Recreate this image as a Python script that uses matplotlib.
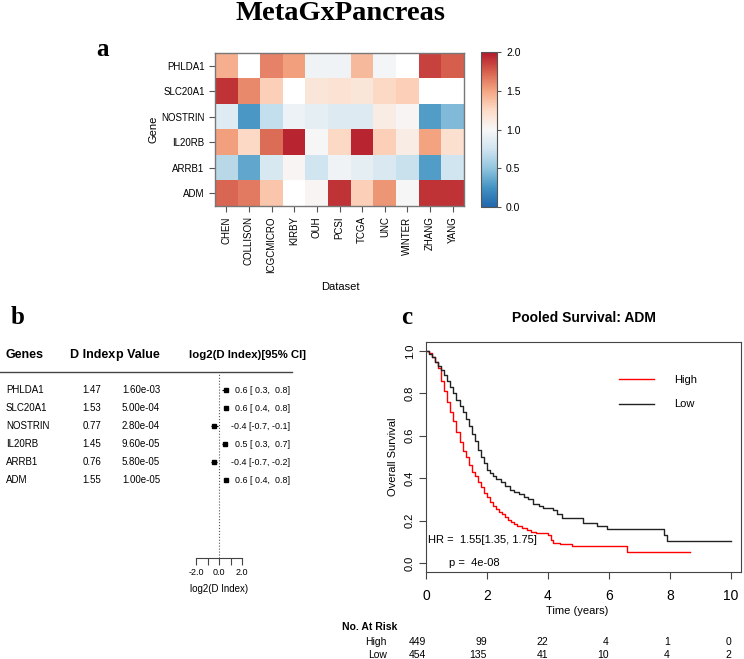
import numpy as np
import matplotlib
matplotlib.use("Agg")
import matplotlib.pyplot as plt
import matplotlib.transforms as mtrans
from matplotlib.colors import LinearSegmentedColormap
from matplotlib.lines import Line2D

plt.rcParams['font.family'] = ['Liberation Sans', 'DejaVu Sans']

# ---- data ----
genes = ["PHLDA1", "SLC20A1", "NOSTRIN", "IL20RB", "ARRB1", "ADM"]
datasets = ["CHEN", "COLLISON", "ICGCMICRO", "KIRBY", "OUH", "PCSI",
            "TCGA", "UNC", "WINTER", "ZHANG", "YANG"]
nan = np.nan
heat = np.array([
    [1.45, nan, 1.62, 1.52, 0.95, 0.95, 1.40, 0.98, nan, 1.85, 1.75],
    [1.90, 1.60, 1.30, nan, 1.15, 1.18, 1.15, 1.25, 1.30, nan, nan],
    [0.85, 0.28, 0.70, 0.93, 0.88, 0.83, 0.83, 1.10, 1.02, 0.30, 0.45],
    [1.52, 1.25, 1.70, 1.95, 1.00, 1.25, 1.95, 1.30, 1.10, 1.50, 1.20],
    [0.65, 0.35, 0.80, 1.02, 0.75, 0.96, 0.88, 0.82, 0.72, 0.30, 0.75],
    [1.72, 1.65, 1.35, nan, 1.02, 1.90, 1.30, 1.55, 1.00, 1.90, 1.90],
])

d_index = [1.47, 1.53, 0.77, 1.45, 0.76, 1.55]
p_value = [1.60e-03, 5.00e-04, 2.80e-04, 9.60e-05, 5.80e-05, 1.00e-05]
log2_est = [0.6, 0.6, -0.4, 0.5, -0.4, 0.6]
log2_lo = [0.3, 0.4, -0.7, 0.3, -0.7, 0.4]
log2_hi = [0.8, 0.8, -0.1, 0.7, -0.2, 0.8]

t_high = [0, 0.1, 0.2, 0.3, 0.4, 0.5, 0.6, 0.7, 0.8, 0.9, 1.0, 1.1, 1.2, 1.3,
          1.4, 1.5, 1.6, 1.7, 1.8, 1.9, 2.0, 2.1, 2.2, 2.3, 2.4, 2.5, 2.6,
          2.7, 2.8, 2.9, 3.0, 3.15, 3.3, 3.45, 3.6, 4.0, 4.1, 4.15, 4.4, 4.8,
          6.6, 8.66]
s_high = [1.0, 0.99, 0.97, 0.95, 0.92, 0.86, 0.81, 0.76, 0.71, 0.67, 0.62,
          0.57, 0.53, 0.50, 0.46, 0.43, 0.41, 0.38, 0.36, 0.33, 0.31, 0.29,
          0.27, 0.255, 0.24, 0.23, 0.215, 0.205, 0.195, 0.185, 0.175, 0.165,
          0.155, 0.145, 0.14, 0.13, 0.11, 0.095, 0.09, 0.08, 0.052, 0.052]
t_low = [0, 0.1, 0.2, 0.3, 0.4, 0.5, 0.6, 0.7, 0.8, 0.9, 1.0, 1.1, 1.2, 1.3,
         1.4, 1.5, 1.6, 1.7, 1.8, 1.9, 2.0, 2.1, 2.2, 2.3, 2.45, 2.6, 2.75,
         2.9, 3.05, 3.2, 3.35, 3.5, 3.7, 3.85, 4.15, 4.3, 4.45, 5.15, 5.6,
         5.95, 7.8, 7.9, 10.0]
s_low = [1.0, 0.985, 0.97, 0.95, 0.93, 0.91, 0.885, 0.86, 0.83, 0.80, 0.77,
         0.74, 0.71, 0.68, 0.645, 0.61, 0.575, 0.535, 0.50, 0.47, 0.44, 0.425,
         0.41, 0.395, 0.38, 0.365, 0.345, 0.335, 0.325, 0.31, 0.30, 0.28,
         0.27, 0.26, 0.25, 0.23, 0.212, 0.19, 0.175, 0.16, 0.13, 0.105, 0.105]

risk_times = [0, 2, 4, 6, 8, 10]
risk_high = [449, 99, 22, 4, 1, 0]
risk_low = [454, 135, 41, 10, 4, 2]

W, H = 744, 659
fig = plt.figure(figsize=(W / 100, H / 100), dpi=100)


def fx(px):
    return px / W


def fy(py):
    return 1 - py / H


# title and panel letters
fig.text(fx(341), fy(14), "MetaGxPancreas", family="Liberation Serif",
         weight="bold", fontsize=20.5, ha="center", va="center")
for lab, x, y in [("a", 103, 50), ("b", 18, 318), ("c", 407, 318)]:
    fig.text(fx(x), fy(y), lab, family="Liberation Serif", weight="bold",
             fontsize=18, ha="center", va="center")

# ---- panel a: heatmap ----
axh = fig.add_axes([fx(215), fy(206), fx(249), 153 / H])
cmap = LinearSegmentedColormap.from_list(
    "rdbu9", ["#2166AC", "#4393C3", "#92C5DE", "#D1E5F0", "#F7F7F7",
              "#FDDBC7", "#F4A582", "#D6604D", "#B2182B"])
cmap.set_bad("white")
im = axh.imshow(np.ma.masked_invalid(heat), cmap=cmap, vmin=0, vmax=2,
                aspect="auto", interpolation="nearest")
axh.set_yticks(range(len(genes)))
axh.set_yticklabels(genes, fontsize=7)
axh.set_xticks(range(len(datasets)))
axh.set_xticklabels(datasets, rotation=90, fontsize=7)
axh.tick_params(color="#555555", length=4)
for s in axh.spines.values():
    s.set_color("#777777")
    s.set_linewidth(1.0)
axh.set_ylabel("Gene", fontsize=8, labelpad=2)
fig.text(fx(340), fy(287), "Dataset", fontsize=8, ha="center", va="center")

cax = fig.add_axes([fx(481), fy(207), fx(16), 155 / H])
cb = fig.colorbar(im, cax=cax, ticks=[0, 0.5, 1.0, 1.5, 2.0], format="%.1f")
cb.ax.tick_params(labelsize=7.5, length=3, color="#555555")
cb.outline.set_edgecolor("#555555")

# ---- panel b: forest table ----
axf = fig.add_axes([fx(196), fy(558), fx(46), 186 / H])
rows = np.arange(len(genes))
axf.set_xlim(-2, 2)
axf.set_ylim(9.33, -1)
axf.axvline(0, ls=":", color="#555555", lw=0.8)
axf.hlines(rows, log2_lo, log2_hi, color="black", lw=0.8)
axf.plot(log2_est, rows, "s", color="black", ms=3.2)
for k in ["top", "right", "left"]:
    axf.spines[k].set_visible(False)
axf.spines["bottom"].set_color("#444444")
axf.set_yticks([])
axf.set_xticks([-2, -1, 0, 1, 2])
axf.set_xticklabels(["-2.0", "", "0.0", "", "2.0"], fontsize=6.5)
axf.tick_params(axis="x", length=5, color="#444444", pad=2)
axf.set_xlabel("log2(D Index)", fontsize=7, labelpad=5)

hdr_y = fy(355)
fig.text(fx(5), hdr_y, "Genes", weight="bold", fontsize=9, va="center")
fig.text(fx(70), hdr_y, "D Index", weight="bold", fontsize=9, va="center")
fig.text(fx(116), hdr_y, "p Value", weight="bold", fontsize=9, va="center")
fig.text(fx(189), hdr_y, "log2(D Index)[95% CI]", weight="bold",
         fontsize=8.2, va="center")
fig.add_artist(Line2D([0, fx(292)], [fy(372), fy(372)], color="#444444",
                      lw=1.0))

tr = mtrans.blended_transform_factory(fig.transFigure, axf.transData)
for i, g in enumerate(genes):
    fig.text(fx(6), i, g, transform=tr, fontsize=7, va="center")
    fig.text(fx(92), i, f"{d_index[i]:.2f}", transform=tr, fontsize=7,
             va="center", ha="center")
    fig.text(fx(141), i, f"{p_value[i]:.2e}", transform=tr, fontsize=7,
             va="center", ha="center")
    ci = f"{log2_est[i]:.1f} [{log2_lo[i]:4.1f},{log2_hi[i]:5.1f}]"
    fig.text(fx(290), i, ci, transform=tr, fontsize=6.4, va="center",
             ha="right")

# ---- panel c: KM curves ----
axk = fig.add_axes([fx(426), fy(572), fx(315), 230 / H])
axk.step(t_high, s_high, where="post", color="red", lw=1.0, label="High")
axk.step(t_low, s_low, where="post", color="#222222", lw=1.0, label="Low")
axk.set_xlim(0, 10.33)
axk.set_ylim(-0.0425, 1.0425)
axk.set_xticks([0, 2, 4, 6, 8, 10])
axk.set_yticks([0, 0.2, 0.4, 0.6, 0.8, 1.0])
axk.set_yticklabels(["0.0", "0.2", "0.4", "0.6", "0.8", "1.0"], rotation=90,
                    va="center", fontsize=8)
axk.tick_params(axis="x", labelsize=10, length=5, pad=7, color="#444444")
axk.tick_params(axis="y", length=5, pad=3, color="#444444")
for s in axk.spines.values():
    s.set_color("#444444")
axk.set_ylabel("Overall Survival", fontsize=8, labelpad=5)
fig.text(fx(577), fy(611), "Time (years)", fontsize=8, ha="center",
         va="center")
fig.text(fx(584), fy(318), "Pooled Survival: ADM", weight="bold", fontsize=10,
         ha="center", va="center")
axk.legend(loc="upper left", bbox_to_anchor=(0.58, 0.90), frameon=False,
           fontsize=8, handlelength=3.2, handletextpad=1.8, labelspacing=1.3)
axk.text(0.005, 0.139, "HR =  1.55[1.35, 1.75]", transform=axk.transAxes,
         fontsize=8, va="center")
axk.text(0.073, 0.038, "p =  4e-08", transform=axk.transAxes, fontsize=8,
         va="center")

trk = mtrans.blended_transform_factory(axk.transData, fig.transFigure)
fig.text(fx(342), fy(627), "No. At Risk", weight="bold", fontsize=7.5,
         va="center")
fig.text(fx(387), fy(642), "High", fontsize=7.5, va="center", ha="right")
fig.text(fx(387), fy(655), "Low", fontsize=7.5, va="center", ha="right")
for t, nh, nl in zip(risk_times, risk_high, risk_low):
    fig.text(t, fy(642), str(nh), transform=trk, fontsize=7.5, va="center",
             ha="right")
    fig.text(t, fy(655), str(nl), transform=trk, fontsize=7.5, va="center",
             ha="right")

fig.savefig("out.png", dpi=100)
